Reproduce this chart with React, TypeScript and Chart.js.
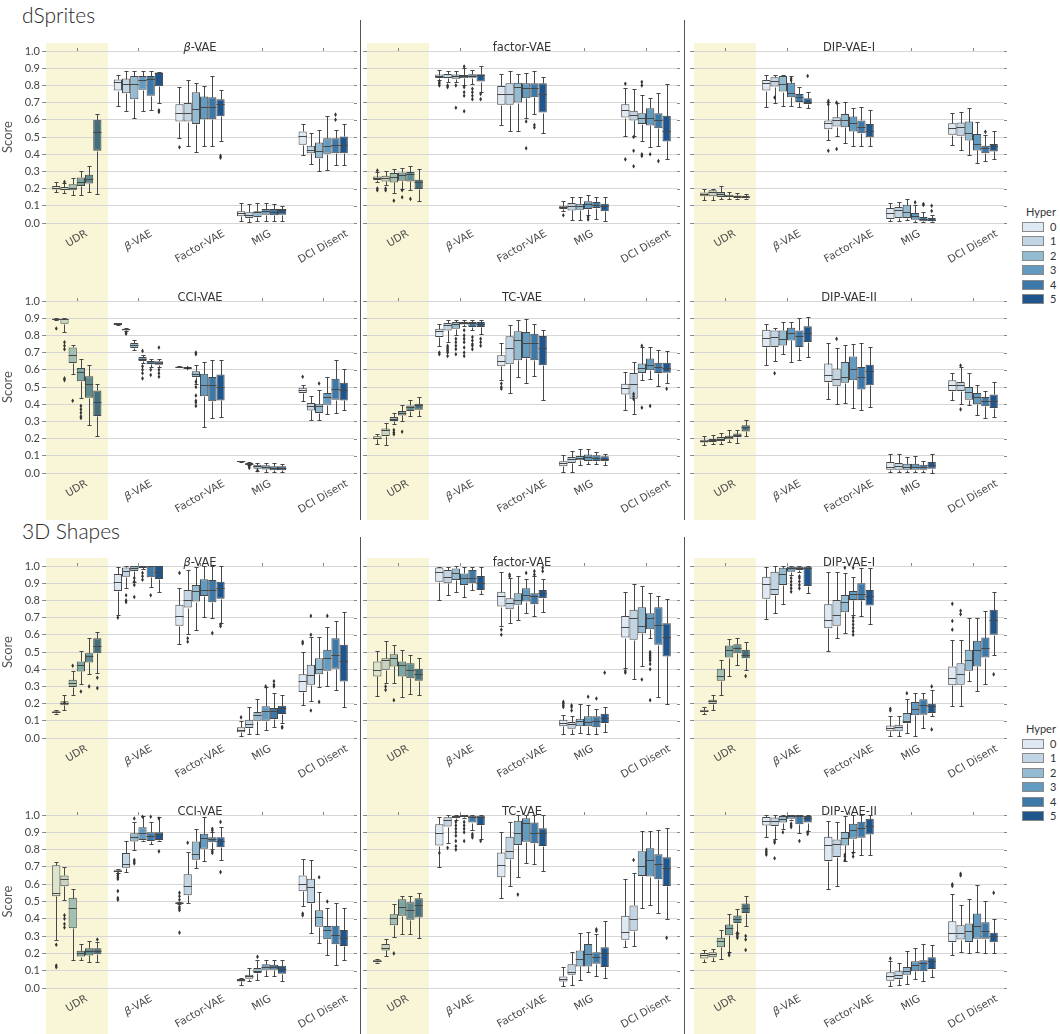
import React, { useEffect, useRef } from 'react';
import { Chart, registerables } from 'chart.js';

Chart.register(...registerables);

const METRICS = ['UDR', 'β-VAE', 'Factor-VAE', 'MIG', 'DCI Disent'];
const HYPERS = ['0', '1', '2', '3', '4', '5'];
const Y_TICKS_STEP = 0.1;
const BLUES = ['#dee9f3', '#c1d5e5', '#93bbd2', '#639bc0', '#3d79a8', '#1e558d'];
const UDR_TINTS = ['#dde4cc', '#c6d4c1', '#a2c0b2', '#7ba6a4', '#5d8b90', '#446e7b'];
const SECTIONS = ['dSprites', '3D Shapes'];
const LEGEND_TITLE = 'Hyper';
const Y_TITLE = 'Score';

// each box: [lower whisker, q1, median, q3, upper whisker, outliers?]
// rows follow METRICS, columns follow HYPERS
const DSPRITES_BETA_VAE: any[][] = [
  [[0.18,0.195,0.205,0.215,0.24],[0.175,0.19,0.2,0.21,0.23,[0.238]],[0.16,0.19,0.205,0.225,0.26],[0.16,0.215,0.24,0.265,0.30],[0.18,0.23,0.255,0.28,0.33],[0.17,0.42,0.53,0.60,0.635]],
  [[0.68,0.77,0.82,0.835,0.86],[0.65,0.755,0.81,0.84,0.885],[0.61,0.72,0.81,0.855,0.885],[0.65,0.775,0.83,0.855,0.885],[0.655,0.74,0.835,0.855,0.885],[0.695,0.795,0.87,0.875,0.88,[0.655,0.645]]],
  [[0.493,0.59,0.638,0.69,0.79,[0.44]],[0.445,0.59,0.64,0.697,0.832],[0.41,0.576,0.663,0.76,0.816],[0.445,0.603,0.677,0.735,0.797],[0.445,0.603,0.673,0.731,0.855],[0.474,0.62,0.692,0.72,0.774,[0.39,0.38]]],
  [[0.01,0.039,0.058,0.068,0.116],[0.006,0.029,0.048,0.062,0.112],[0.01,0.035,0.064,0.068,0.116],[0.014,0.048,0.072,0.081,0.116],[0.014,0.045,0.066,0.081,0.108],[0.014,0.048,0.073,0.081,0.097]],
  [[0.397,0.455,0.507,0.532,0.576],[0.344,0.406,0.425,0.449,0.522],[0.304,0.377,0.416,0.468,0.542],[0.31,0.402,0.45,0.493,0.62],[0.335,0.406,0.455,0.493,0.542,[0.63,0.6]],[0.335,0.406,0.455,0.503,0.576]],
];
const DSPRITES_FACTOR_VAE: any[][] = [
  [[0.238,0.25,0.26,0.27,0.294,[0.305,0.2,0.19]],[0.222,0.242,0.26,0.275,0.3,[0.2,0.19]],[0.174,0.236,0.27,0.29,0.313,[0.13]],[0.197,0.245,0.28,0.294,0.32,[0.19,0.15]],[0.193,0.242,0.286,0.296,0.333,[0.14]],[0.126,0.197,0.238,0.251,0.313]],
  [[0.832,0.843,0.853,0.863,0.89,[0.82,0.81,0.8]],[0.822,0.841,0.851,0.867,0.886,[0.8,0.79]],[0.822,0.839,0.855,0.863,0.886,[0.8,0.67]],[0.803,0.841,0.853,0.861,0.9,[0.91,0.79,0.76,0.74,0.65]],[0.81,0.845,0.855,0.865,0.89,[0.78,0.76,0.74,0.72]],[0.764,0.822,0.859,0.865,0.915,[0.75,0.72]]],
  [[0.571,0.687,0.75,0.797,0.867],[0.532,0.687,0.749,0.812,0.886],[0.532,0.7,0.789,0.816,0.867],[0.609,0.725,0.783,0.812,0.874,[0.59,0.435]],[0.632,0.731,0.783,0.812,0.886,[0.57,0.555]],[0.526,0.642,0.749,0.812,0.851]],
  [[0.068,0.081,0.093,0.1,0.13,[0.045]],[0.015,0.073,0.097,0.116,0.149],[0.015,0.077,0.1,0.112,0.149],[0.048,0.081,0.11,0.126,0.164,[0.035,0.02]],[0.023,0.087,0.106,0.122,0.149],[0.014,0.068,0.097,0.112,0.149]],
  [[0.507,0.613,0.658,0.69,0.783,[0.81,0.37]],[0.507,0.596,0.629,0.652,0.778,[0.5,0.42,0.33]],[0.478,0.576,0.609,0.638,0.745,[0.82,0.8,0.4,0.39]],[0.441,0.567,0.609,0.667,0.729,[0.4]],[0.445,0.551,0.596,0.638,0.758,[0.36]],[0.373,0.474,0.532,0.623,0.809]],
];
const DSPRITES_DIP_VAE_I: any[][] = [
  [[0.135,0.155,0.168,0.178,0.2],[0.135,0.155,0.178,0.19,0.2],[0.141,0.151,0.17,0.18,0.213],[0.141,0.151,0.155,0.164,0.178],[0.141,0.145,0.155,0.16,0.175],[0.14,0.147,0.153,0.158,0.17]],
  [[0.677,0.77,0.812,0.832,0.861],[0.7,0.793,0.828,0.847,0.861,[0.73]],[0.681,0.764,0.808,0.855,0.861],[0.681,0.731,0.758,0.816,0.855,[0.84,0.83]],[0.677,0.704,0.731,0.75,0.793],[0.667,0.692,0.706,0.725,0.764,[0.855]]],
  [[0.48,0.545,0.58,0.596,0.706,[0.71,0.69,0.42]],[0.507,0.561,0.596,0.615,0.7,[0.7,0.43]],[0.468,0.557,0.6,0.634,0.706],[0.445,0.532,0.584,0.619,0.667],[0.449,0.522,0.561,0.596,0.673],[0.445,0.499,0.532,0.576,0.658]],
  [[0.01,0.023,0.058,0.087,0.116],[0.01,0.029,0.073,0.093,0.12],[0.015,0.029,0.064,0.106,0.139],[0.006,0.019,0.043,0.058,0.106,[0.12]],[0.004,0.01,0.023,0.035,0.062,[0.11,0.105]],[0.004,0.01,0.019,0.029,0.048,[0.1,0.07]]],
  [[0.451,0.513,0.551,0.58,0.642],[0.422,0.507,0.557,0.584,0.648],[0.397,0.48,0.522,0.59,0.667],[0.348,0.422,0.46,0.518,0.586],[0.358,0.406,0.435,0.449,0.513,[0.53]],[0.373,0.416,0.445,0.46,0.532]],
];
const DSPRITES_CCI_VAE: any[][] = [
  [[0.888,0.89,0.895,0.897,0.9,[0.84]],[0.82,0.868,0.893,0.897,0.9,[0.76,0.74,0.72,0.55,0.54]],[0.574,0.64,0.685,0.73,0.745,[0.42]],[0.436,0.533,0.587,0.61,0.665,[0.39,0.37,0.35,0.33,0.32]],[0.277,0.438,0.519,0.562,0.626],[0.215,0.331,0.413,0.48,0.519]],
  [[0.862,0.864,0.868,0.872,0.874],[0.824,0.829,0.835,0.839,0.845,[0.815,0.81]],[0.713,0.727,0.742,0.756,0.775],[0.64,0.651,0.665,0.674,0.684,[0.71,0.62,0.6,0.58,0.55]],[0.616,0.632,0.641,0.651,0.665,[0.6,0.57]],[0.616,0.63,0.641,0.649,0.665,[0.73,0.6,0.58,0.56]]],
  [[0.616,0.617,0.618,0.619,0.62],[0.608,0.61,0.612,0.616,0.618,[0.61]],[0.519,0.558,0.577,0.591,0.63,[0.7,0.69,0.53,0.5,0.45,0.42,0.41,0.39]],[0.267,0.446,0.51,0.577,0.645],[0.322,0.417,0.51,0.558,0.659],[0.326,0.422,0.5,0.572,0.659]],
  [[0.065,0.067,0.068,0.07,0.072],[0.047,0.05,0.054,0.058,0.062,[0.04,0.03]],[0.012,0.025,0.039,0.048,0.058,[0.015]],[0.006,0.021,0.035,0.045,0.058],[0.004,0.016,0.029,0.039,0.058],[0.004,0.016,0.029,0.039,0.055]],
  [[0.417,0.465,0.48,0.496,0.51,[0.56]],[0.31,0.364,0.388,0.407,0.446],[0.306,0.349,0.388,0.403,0.481,[0.52]],[0.345,0.397,0.442,0.465,0.558],[0.351,0.426,0.486,0.548,0.659],[0.364,0.422,0.484,0.525,0.607]],
];
const DSPRITES_TC_VAE: any[][] = [
  [[0.171,0.196,0.203,0.213,0.229],[0.165,0.215,0.248,0.258,0.29],[0.283,0.302,0.316,0.326,0.349,[0.25,0.235,0.225]],[0.302,0.335,0.349,0.36,0.393,[0.24]],[0.331,0.36,0.384,0.393,0.422],[0.331,0.368,0.393,0.403,0.442]],
  [[0.736,0.79,0.824,0.839,0.868,[0.7,0.69]],[0.762,0.829,0.858,0.872,0.891,[0.74,0.73,0.72,0.71,0.7,0.68]],[0.8,0.839,0.868,0.878,0.891,[0.78,0.76,0.74,0.72,0.69]],[0.853,0.864,0.874,0.878,0.891,[0.83,0.8,0.78,0.76,0.73,0.7,0.68]],[0.83,0.849,0.872,0.878,0.888,[0.79,0.77,0.75,0.74,0.72]],[0.81,0.849,0.868,0.878,0.888,[0.78,0.76,0.74]]],
  [[0.539,0.62,0.651,0.684,0.756,[0.52,0.5,0.49]],[0.467,0.632,0.729,0.795,0.862],[0.558,0.655,0.771,0.824,0.888],[0.525,0.669,0.756,0.82,0.897],[0.562,0.655,0.756,0.81,0.868],[0.426,0.626,0.729,0.797,0.83]],
  [[0.006,0.039,0.058,0.068,0.103],[0.006,0.058,0.083,0.093,0.126],[0.048,0.074,0.089,0.099,0.141],[0.054,0.07,0.093,0.107,0.138],[0.054,0.07,0.087,0.103,0.122],[0.048,0.07,0.083,0.097,0.112]],
  [[0.368,0.457,0.494,0.519,0.587],[0.341,0.432,0.519,0.581,0.645,[0.46,0.445,0.43]],[0.539,0.581,0.61,0.636,0.733,[0.74,0.38]],[0.548,0.597,0.63,0.665,0.733,[0.39]],[0.504,0.581,0.616,0.641,0.717],[0.523,0.583,0.612,0.641,0.707,[0.49]]],
];
const DSPRITES_DIP_VAE_II: any[][] = [
  [[0.161,0.178,0.186,0.194,0.213],[0.171,0.18,0.19,0.198,0.219],[0.167,0.186,0.2,0.209,0.233],[0.18,0.196,0.209,0.217,0.248],[0.176,0.209,0.223,0.229,0.252],[0.213,0.242,0.267,0.277,0.306]],
  [[0.63,0.733,0.787,0.833,0.868],[0.651,0.733,0.791,0.829,0.845,[0.58]],[0.694,0.742,0.781,0.829,0.878],[0.645,0.771,0.814,0.845,0.878],[0.655,0.733,0.795,0.829,0.9],[0.674,0.762,0.816,0.853,0.907]],
  [[0.432,0.529,0.568,0.636,0.756],[0.403,0.504,0.548,0.607,0.729,[0.78]],[0.407,0.525,0.558,0.645,0.742],[0.38,0.539,0.603,0.678,0.75],[0.364,0.486,0.558,0.616,0.756],[0.384,0.51,0.593,0.63,0.733]],
  [[0.004,0.019,0.035,0.064,0.112],[0.006,0.019,0.039,0.058,0.109],[0.006,0.019,0.035,0.054,0.093],[0.006,0.019,0.035,0.054,0.1],[0.004,0.019,0.035,0.048,0.07],[0.002,0.025,0.045,0.064,0.112]],
  [[0.422,0.477,0.51,0.539,0.581],[0.403,0.477,0.51,0.529,0.616,[0.625,0.37]],[0.393,0.426,0.471,0.5,0.581],[0.335,0.399,0.442,0.465,0.514],[0.322,0.388,0.417,0.442,0.477],[0.326,0.378,0.419,0.457,0.529]],
];
const SHAPES_BETA_VAE: any[][] = [
  [[0.14,0.145,0.15,0.155,0.16],[0.164,0.19,0.203,0.213,0.251,[0.205]],[0.251,0.296,0.319,0.338,0.39,[0.42]],[0.313,0.387,0.422,0.445,0.503,[0.27]],[0.371,0.439,0.474,0.493,0.58,[0.3]],[0.377,0.493,0.536,0.58,0.619,[0.35,0.29]]],
  [[0.716,0.855,0.909,0.954,0.996,[0.7]],[0.874,0.938,0.971,0.992,1.0,[0.83,0.8,0.79]],[0.909,0.971,0.99,1.0,1.0,[0.93,0.91,0.89,0.82]],[0.98,0.992,0.997,1.0,1.0,[0.96,0.94,0.92]],[0.88,0.934,1.0,1.0,1.0,[0.83]],[0.847,0.925,0.967,1.0,1.0]],
  [[0.545,0.652,0.71,0.774,0.874,[0.96]],[0.605,0.758,0.803,0.861,0.977,[0.58,0.56]],[0.629,0.793,0.855,0.89,0.996],[0.706,0.826,0.861,0.923,1.0],[0.696,0.789,0.861,0.919,1.0,[0.61]],[0.667,0.809,0.874,0.909,1.0,[0.66,0.65]]],
  [[0.014,0.033,0.048,0.062,0.097,[0.12]],[0.023,0.058,0.081,0.106,0.178],[0.023,0.101,0.135,0.151,0.226],[0.048,0.101,0.155,0.184,0.294,[0.3]],[0.062,0.11,0.155,0.174,0.261,[0.33,0.31,0.3]],[0.087,0.139,0.174,0.188,0.248,[0.065,0.06]]],
  [[0.193,0.267,0.329,0.371,0.499,[0.56,0.55]],[0.213,0.309,0.368,0.426,0.59,[0.71,0.6,0.16]],[0.294,0.371,0.402,0.464,0.59,[0.21]],[0.3,0.391,0.464,0.513,0.648,[0.71]],[0.28,0.402,0.484,0.58,0.681],[0.178,0.329,0.445,0.542,0.735]],
];
const SHAPES_FACTOR_VAE: any[][] = [
  [[0.246,0.358,0.397,0.445,0.507],[0.319,0.397,0.455,0.464,0.565,[0.3,0.28]],[0.319,0.416,0.464,0.487,0.542,[0.22]],[0.238,0.358,0.422,0.445,0.513],[0.255,0.348,0.397,0.435,0.48],[0.251,0.333,0.371,0.402,0.464]],
  [[0.803,0.909,0.967,0.992,0.996],[0.832,0.899,0.938,0.977,0.996],[0.847,0.919,0.957,0.986,1.0],[0.822,0.89,0.928,0.957,0.996],[0.861,0.899,0.928,0.977,0.996],[0.836,0.861,0.899,0.942,0.996]],
  [[0.652,0.764,0.828,0.851,0.963,[0.63,0.6]],[0.667,0.749,0.783,0.812,0.928,[0.95,0.94]],[0.687,0.774,0.803,0.842,0.942],[0.725,0.793,0.832,0.87,0.925,[0.96]],[0.712,0.778,0.825,0.842,0.942,[0.97,0.95]],[0.731,0.812,0.842,0.861,0.925,[0.99,0.97]]],
  [[0.023,0.068,0.087,0.106,0.135,[0.21,0.2,0.19,0.18]],[0.023,0.054,0.081,0.093,0.126,[0.19,0.18,0.16]],[0.029,0.068,0.097,0.112,0.197],[0.023,0.068,0.093,0.126,0.193,[0.24]],[0.025,0.062,0.1,0.126,0.17,[0.23]],[0.033,0.087,0.116,0.141,0.18,[0.38]]],
  [[0.406,0.584,0.648,0.71,0.851,[0.39,0.38]],[0.344,0.571,0.696,0.745,0.894],[0.416,0.609,0.652,0.76,0.886,[0.34]],[0.58,0.632,0.696,0.725,0.845,[0.5,0.49,0.48,0.47,0.46,0.45,0.43,0.4,0.22]],[0.236,0.542,0.658,0.76,0.828],[0.197,0.474,0.586,0.667,0.807]],
];
const SHAPES_DIP_VAE_I: any[][] = [
  [[0.141,0.151,0.159,0.164,0.178],[0.164,0.197,0.213,0.222,0.248],[0.251,0.333,0.362,0.402,0.455],[0.358,0.468,0.513,0.538,0.574],[0.422,0.493,0.522,0.545,0.584],[0.397,0.464,0.484,0.513,0.557,[0.36]]],
  [[0.691,0.809,0.894,0.938,0.996],[0.725,0.832,0.867,0.967,1.0],[0.778,0.89,0.952,0.99,1.0],[0.948,0.967,0.986,0.996,1.0,[0.93,0.91,0.89,0.87,0.85]],[0.967,0.977,0.99,0.996,1.0,[0.94,0.93,0.91,0.89,0.87]],[0.841,0.884,0.986,0.996,1.0]],
  [[0.503,0.638,0.687,0.778,0.967],[0.58,0.652,0.716,0.803,0.963],[0.609,0.731,0.789,0.832,0.957,[0.99]],[0.716,0.803,0.836,0.855,0.938,[0.99,0.7,0.68,0.66,0.64,0.62,0.6]],[0.712,0.803,0.836,0.899,0.99],[0.662,0.77,0.826,0.861,0.99]],
  [[0.01,0.039,0.058,0.072,0.126,[0.17,0.16]],[0.01,0.039,0.064,0.077,0.126],[0.029,0.087,0.1,0.145,0.228,[0.26]],[0.014,0.132,0.168,0.209,0.261],[0.058,0.135,0.19,0.226,0.261],[0.126,0.145,0.184,0.199,0.277,[0.3,0.05]]],
  [[0.184,0.306,0.348,0.416,0.567,[0.78,0.68,0.63]],[0.184,0.309,0.371,0.435,0.567,[0.74,0.72]],[0.329,0.391,0.455,0.513,0.696],[0.271,0.416,0.513,0.565,0.7],[0.313,0.468,0.526,0.584,0.739],[0.484,0.6,0.687,0.745,0.851,[0.37]]],
];
const SHAPES_CCI_VAE: any[][] = [
  [[0.278,0.531,0.55,0.709,0.728,[0.25,0.13,0.12]],[0.508,0.588,0.628,0.651,0.699,[0.42,0.4,0.37,0.35]],[0.163,0.345,0.464,0.521,0.571],[0.163,0.182,0.201,0.216,0.253],[0.153,0.188,0.215,0.23,0.274],[0.153,0.195,0.216,0.23,0.268,[0.28]]],
  [[0.665,0.67,0.676,0.68,0.685,[0.66,0.65,0.64,0.63,0.56,0.52,0.51]],[0.67,0.695,0.718,0.78,0.852],[0.795,0.847,0.872,0.895,0.958,[0.98,0.74,0.73,0.72]],[0.847,0.856,0.897,0.929,0.992,[0.99]],[0.833,0.849,0.881,0.9,0.958,[0.99]],[0.847,0.856,0.891,0.9,0.99,[0.98,0.79]]],
  [[0.485,0.488,0.492,0.495,0.498,[0.55,0.53,0.51,0.47,0.46,0.45,0.32]],[0.489,0.536,0.59,0.657,0.785,[0.84]],[0.695,0.741,0.776,0.847,0.92],[0.732,0.805,0.866,0.891,0.99],[0.805,0.843,0.862,0.872,0.9,[0.92,0.91,0.79,0.78]],[0.738,0.814,0.852,0.872,0.929,[0.96,0.67]]],
  [[0.019,0.038,0.048,0.052,0.057],[0.038,0.054,0.067,0.077,0.115],[0.048,0.086,0.096,0.115,0.163,[0.18]],[0.067,0.105,0.119,0.138,0.163],[0.067,0.105,0.119,0.134,0.163],[0.038,0.082,0.111,0.128,0.163]],
  [[0.473,0.559,0.603,0.651,0.747,[0.43,0.42]],[0.32,0.492,0.584,0.632,0.738],[0.259,0.354,0.412,0.45,0.556,[0.64]],[0.188,0.282,0.335,0.358,0.46,[0.5]],[0.134,0.253,0.307,0.36,0.489],[0.163,0.243,0.287,0.335,0.46]],
];
const SHAPES_TC_VAE: any[][] = [
  [[0.144,0.15,0.158,0.163,0.17],[0.183,0.217,0.231,0.254,0.285],[0.292,0.362,0.404,0.427,0.487,[0.2]],[0.313,0.417,0.471,0.513,0.533],[0.313,0.394,0.452,0.496,0.529],[0.288,0.408,0.481,0.519,0.548]],
  [[0.698,0.823,0.894,0.946,0.99,[0.78]],[0.84,0.933,0.971,0.987,1.0,[0.81]],[0.971,0.985,0.99,0.996,1.0,[0.96,0.94,0.92,0.9,0.88,0.85,0.82,0.8]],[0.98,0.99,0.995,1.0,1.0,[0.96,0.94,0.92,0.9,0.85]],[0.913,0.956,0.99,0.996,1.0,[0.89,0.88,0.87]],[0.86,0.942,0.99,0.996,1.0,[0.85]]],
  [[0.519,0.64,0.712,0.783,0.904],[0.59,0.744,0.794,0.875,0.962],[0.644,0.827,0.898,0.967,1.0,[0.54]],[0.721,0.846,0.952,0.981,1.0],[0.715,0.837,0.898,0.956,1.0],[0.679,0.821,0.894,0.923,1.0]],
  [[0.013,0.038,0.052,0.067,0.119],[0.019,0.077,0.09,0.138,0.206],[0.044,0.125,0.169,0.217,0.317],[0.092,0.125,0.198,0.254,0.321],[0.067,0.14,0.179,0.206,0.31,[0.34,0.33]],[0.058,0.121,0.202,0.235,0.39]],
  [[0.237,0.279,0.323,0.417,0.629],[0.24,0.331,0.398,0.477,0.663,[0.74]],[0.462,0.648,0.706,0.79,0.91],[0.481,0.644,0.74,0.808,0.91],[0.433,0.629,0.715,0.773,0.913],[0.398,0.59,0.692,0.756,0.927,[0.29]]],
];
const SHAPES_DIP_VAE_II: any[][] = [
  [[0.151,0.17,0.189,0.203,0.222],[0.154,0.178,0.199,0.207,0.226],[0.17,0.236,0.27,0.29,0.338],[0.207,0.305,0.344,0.367,0.425,[0.2,0.19]],[0.319,0.376,0.4,0.419,0.458,[0.32,0.31,0.3,0.29]],[0.357,0.434,0.463,0.488,0.531,[0.3,0.28,0.22]]],
  [[0.875,0.94,0.965,0.988,1.0,[0.8,0.79,0.78,0.77]],[0.863,0.936,0.965,0.985,1.0,[0.85,0.84,0.75]],[0.921,0.956,0.975,0.994,1.0,[0.9]],[0.969,0.979,0.994,1.0,1.0,[0.95,0.94,0.93]],[0.898,0.946,0.994,1.0,1.0,[0.85]],[0.907,0.956,0.981,0.994,1.0,[0.9,0.89]]],
  [[0.573,0.734,0.824,0.875,0.965],[0.589,0.757,0.83,0.859,0.961],[0.734,0.824,0.869,0.902,0.994,[0.77,0.76,0.74]],[0.786,0.863,0.913,0.95,1.0,[0.78,0.76]],[0.766,0.869,0.927,0.961,1.0],[0.766,0.888,0.936,0.979,1.0]],
  [[0.01,0.042,0.068,0.091,0.154,[0.17]],[0.019,0.052,0.077,0.097,0.145],[0.025,0.077,0.1,0.122,0.212],[0.052,0.097,0.135,0.154,0.232],[0.039,0.097,0.145,0.16,0.255],[0.064,0.11,0.154,0.178,0.251]],
  [[0.189,0.266,0.319,0.386,0.541,[0.6,0.59]],[0.207,0.28,0.319,0.363,0.477,[0.66,0.65]],[0.203,0.266,0.328,0.373,0.515],[0.207,0.284,0.357,0.43,0.593],[0.203,0.284,0.328,0.38,0.502],[0.203,0.264,0.303,0.319,0.4,[0.55]]],
];

// ---------- layout (not data) ----------
const COLS = [
  { canvasLeft: 0, plotLeft: 46, plotRight: 354, showY: true },
  { canvasLeft: 362, plotLeft: 367, plotRight: 677, showY: false },
  { canvasLeft: 687, plotLeft: 694, plotRight: 1004, showY: false },
];
const ROWS = [
  { top: 51, bottom: 223 },
  { top: 301, bottom: 473 },
  { top: 566, bottom: 738 },
  { top: 815, bottom: 988 },
];
const PAD_TOP = 24;
const PAD_RIGHT = 6;
const X_AXIS_H = 46;
const LINE = '#474747';
const GRID = '#d6d6d6';
const BAND = '#f8f6d6';
const BANDS_Y = [[43, 520], [558, 1034]];
const SEPARATORS_Y = [[20, 520], [537, 1034]];
const SEPARATORS_X = [360, 684];

const PANELS = [
  { title: 'β-VAE', data: DSPRITES_BETA_VAE, col: 0, row: 0 },
  { title: 'factor-VAE', data: DSPRITES_FACTOR_VAE, col: 1, row: 0 },
  { title: 'DIP-VAE-I', data: DSPRITES_DIP_VAE_I, col: 2, row: 0 },
  { title: 'CCI-VAE', data: DSPRITES_CCI_VAE, col: 0, row: 1 },
  { title: 'TC-VAE', data: DSPRITES_TC_VAE, col: 1, row: 1 },
  { title: 'DIP-VAE-II', data: DSPRITES_DIP_VAE_II, col: 2, row: 1 },
  { title: 'β-VAE', data: SHAPES_BETA_VAE, col: 0, row: 2 },
  { title: 'factor-VAE', data: SHAPES_FACTOR_VAE, col: 1, row: 2 },
  { title: 'DIP-VAE-I', data: SHAPES_DIP_VAE_I, col: 2, row: 2 },
  { title: 'CCI-VAE', data: SHAPES_CCI_VAE, col: 0, row: 3 },
  { title: 'TC-VAE', data: SHAPES_TC_VAE, col: 1, row: 3 },
  { title: 'DIP-VAE-II', data: SHAPES_DIP_VAE_II, col: 2, row: 3 },
];

const SANS = '"DejaVu Sans", sans-serif';

function richParts(text: string) {
  return text.startsWith('β') ? [{ t: 'β', it: true }, { t: text.slice(1), it: false }] : [{ t: text, it: false }];
}
function richWidth(ctx: CanvasRenderingContext2D, text: string, size: number) {
  let w = 0;
  for (const p of richParts(text)) {
    ctx.font = `${p.it ? 'italic ' : ''}${size}px ${SANS}`;
    w += ctx.measureText(p.t).width;
  }
  return w;
}
function drawRich(ctx: CanvasRenderingContext2D, text: string, cx: number, y: number, size: number) {
  const total = richWidth(ctx, text, size);
  let x = cx - total / 2;
  ctx.textAlign = 'left';
  for (const p of richParts(text)) {
    ctx.font = `${p.it ? 'italic ' : ''}${size}px ${SANS}`;
    ctx.fillText(p.t, x, y);
    x += ctx.measureText(p.t).width;
  }
}

function makePlugin(spec: any) {
  return {
    id: 'boxExtras',
    afterDatasetsDraw(chart: any) {
      const { ctx } = chart;
      const ys = chart.scales.y;
      const py = (v: number) => Math.round(ys.getPixelForValue(v)) + 0.5;
      ctx.save();
      ctx.strokeStyle = LINE;
      ctx.lineWidth = 1;
      HYPERS.forEach((_, hi) => {
        const meta = chart.getDatasetMeta(hi);
        meta.data.forEach((el: any, mi: number) => {
          const b = spec.data[mi][hi];
          const x = Math.round(el.x) + 0.5;
          const w = el.width;
          ctx.beginPath();
          ctx.moveTo(x, py(b[0]));
          ctx.lineTo(x, py(b[1]));
          ctx.moveTo(x, py(b[3]));
          ctx.lineTo(x, py(b[4]));
          ctx.moveTo(x - w / 4, py(b[0]));
          ctx.lineTo(x + w / 4, py(b[0]));
          ctx.moveTo(x - w / 4, py(b[4]));
          ctx.lineTo(x + w / 4, py(b[4]));
          ctx.moveTo(el.x - w / 2, py(b[2]));
          ctx.lineTo(el.x + w / 2, py(b[2]));
          ctx.stroke();
          const outs: number[] = b[5] || [];
          ctx.fillStyle = '#333';
          for (const o of outs) {
            const oy = ys.getPixelForValue(o);
            ctx.beginPath();
            ctx.moveTo(el.x, oy - 2.3);
            ctx.lineTo(el.x + 1.4, oy);
            ctx.lineTo(el.x, oy + 2.3);
            ctx.lineTo(el.x - 1.4, oy);
            ctx.closePath();
            ctx.fill();
          }
        });
      });
      ctx.restore();
    },
    afterDraw(chart: any) {
      const { ctx, chartArea } = chart;
      const xs = chart.scales.x;
      const ys = chart.scales.y;
      ctx.save();
      ctx.strokeStyle = '#888';
      ctx.lineWidth = 1;
      ctx.beginPath();
      ys.ticks.forEach((t: any) => {
        const y = Math.round(ys.getPixelForValue(t.value)) + 0.5;
        ctx.moveTo(chartArea.right, y);
        ctx.lineTo(chartArea.right + 3, y);
      });
      METRICS.forEach((_, i) => {
        const x = Math.round(xs.getPixelForValue(i)) + 0.5;
        ctx.moveTo(x, chartArea.top);
        ctx.lineTo(x, chartArea.top - 3);
      });
      ctx.stroke();
      ctx.fillStyle = '#333';
      ctx.textBaseline = 'alphabetic';
      drawRich(ctx, spec.title, xs.getPixelForValue(2), chartArea.top - 0.5, 11.5);
      ctx.fillStyle = '#4a4a4a';
      ctx.textBaseline = 'middle';
      const ang = Math.PI / 6;
      const size = 10.5;
      METRICS.forEach((lab, i) => {
        const w = richWidth(ctx, lab, size);
        const h = size * 1.1;
        const cx = xs.getPixelForValue(i);
        const cy = chartArea.bottom + 5 + (w * Math.sin(ang) + h * Math.cos(ang)) / 2;
        ctx.save();
        ctx.translate(cx, cy);
        ctx.rotate(-ang);
        drawRich(ctx, lab, 0, 0, size);
        ctx.restore();
      });
      ctx.restore();
    },
  };
}

function Panel({ spec }: { spec: any }) {
  const ref = useRef<HTMLCanvasElement>(null);
  const col = COLS[spec.col];
  const row = ROWS[spec.row];
  const width = col.plotRight + PAD_RIGHT - col.canvasLeft;
  const height = row.bottom - row.top + PAD_TOP + X_AXIS_H;
  const yAxisW = col.plotLeft - col.canvasLeft;
  useEffect(() => {
    const datasets = HYPERS.map((h, hi) => ({
      label: h,
      data: spec.data.map((rowBoxes: any[]) => [rowBoxes[hi][1], rowBoxes[hi][3]]),
      backgroundColor: METRICS.map((_, mi) => (mi === 0 ? UDR_TINTS[hi] : BLUES[hi])),
      borderColor: LINE,
      borderWidth: 1,
      borderSkipped: false,
      categoryPercentage: 0.8,
      barPercentage: 1.0,
    }));
    const chart = new Chart(ref.current as HTMLCanvasElement, {
      type: 'bar',
      data: { labels: METRICS, datasets },
      options: {
        animation: false,
        responsive: false,
        maintainAspectRatio: false,
        layout: { padding: { top: PAD_TOP, right: PAD_RIGHT, left: 0, bottom: 0 } },
        plugins: { legend: { display: false }, tooltip: { enabled: false }, title: { display: false } },
        scales: {
          x: {
            ticks: { display: false },
            grid: { display: false },
            border: { display: false },
            afterFit: (s: any) => { s.height = X_AXIS_H; },
          },
          y: {
            min: 0,
            max: 1,
            ticks: {
              display: col.showY,
              stepSize: Y_TICKS_STEP,
              includeBounds: false,
              callback: (v: any) => Number(v).toFixed(1),
              font: { family: 'Lato', size: 11 },
              color: '#444',
              padding: 2,
            },
            grid: { color: GRID, tickColor: '#888', tickLength: 4, lineWidth: 1 },
            border: { display: false },
            title: {
              display: col.showY,
              text: Y_TITLE,
              font: { family: 'Lato', size: 13 },
              color: '#555',
              padding: { top: 0, bottom: 0 },
            },
            afterFit: (s: any) => { s.width = yAxisW; },
          },
        },
      } as any,
      plugins: [makePlugin(spec)],
    });
    return () => chart.destroy();
  }, []);
  return (
    <canvas
      ref={ref}
      width={width}
      height={height}
      style={{ position: 'absolute', left: col.canvasLeft, top: row.top - PAD_TOP, width, height, display: 'block' }}
    />
  );
}

function Legend({ top }: { top: number }) {
  return (
    <div style={{ position: 'absolute', left: 1022, top, fontFamily: 'Lato, sans-serif', fontSize: 11, color: '#333' }}>
      <div style={{ position: 'absolute', left: 4, top: 0, lineHeight: '14px' }}>{LEGEND_TITLE}</div>
      {HYPERS.map((h, i) => (
        <div key={h} style={{ position: 'absolute', left: 0, top: 17 + i * 14.4, height: 10, width: 40 }}>
          <div style={{ position: 'absolute', left: 0, top: 0, width: 20, height: 8, background: BLUES[i], border: '1px solid #8a8a8a' }} />
          <div style={{ position: 'absolute', left: 28, top: -2, lineHeight: '14px' }}>{h}</div>
        </div>
      ))}
    </div>
  );
}

const SECTION_STYLE: React.CSSProperties = {
  position: 'absolute',
  left: 22,
  fontFamily: 'Lato, sans-serif',
  fontWeight: 300,
  fontSize: 21,
  lineHeight: '22px',
  color: '#2a2a2a',
};

export default function App() {
  return (
    <div style={{ position: 'absolute', left: 0, top: 0, width: 1060, height: 1034, background: '#fff', overflow: 'hidden' }}>
      {BANDS_Y.map(([y0, y1], si) =>
        COLS.map((c, ci) => (
          <div
            key={`b${si}${ci}`}
            style={{ position: 'absolute', left: c.plotLeft, top: y0, width: (c.plotRight - c.plotLeft) / METRICS.length, height: y1 - y0, background: BAND }}
          />
        ))
      )}
      {SEPARATORS_Y.map(([y0, y1], si) =>
        SEPARATORS_X.map((x, xi) => (
          <div key={`s${si}${xi}`} style={{ position: 'absolute', left: x, top: y0, width: 1, height: y1 - y0, background: '#555' }} />
        ))
      )}
      <div style={{ ...SECTION_STYLE, top: 4 }}>{SECTIONS[0]}</div>
      <div style={{ ...SECTION_STYLE, top: 520 }}>{SECTIONS[1]}</div>
      {PANELS.map((p, i) => (
        <Panel key={i} spec={p} />
      ))}
      <Legend top={205} />
      <Legend top={722} />
    </div>
  );
}
